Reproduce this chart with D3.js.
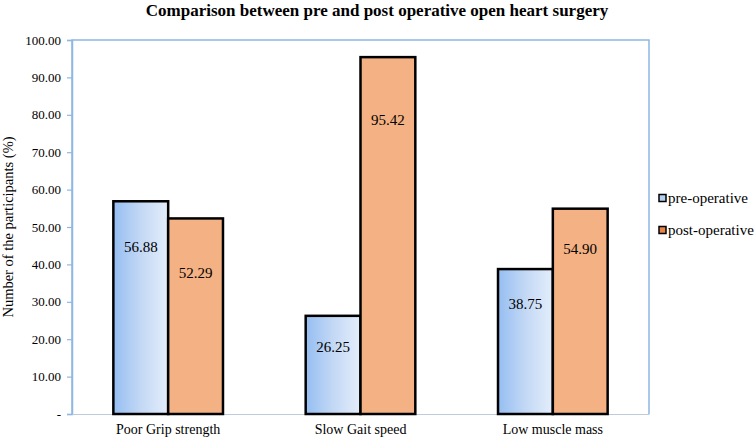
<!DOCTYPE html>
<html><head><meta charset="utf-8">
<script src="https://cdn.jsdelivr.net/npm/d3@7"></script>
<style>body{margin:0;background:#fff}svg{display:block}</style>
</head><body><svg id="c" width="754" height="440"></svg>
<script>
const categories = ["Poor Grip strength", "Slow Gait speed", "Low muscle mass"];
const seriesNames = ["pre-operative", "post-operative"];
const preValues = [56.88, 26.25, 38.75];
const postValues = [52.29, 95.42, 54.90];
// label anchor heights (in data units), as placed in the original
const preLabelAt = [44.7, 17.9, 29.4];
const postLabelAt = [37.7, 78.6, 44.1];
const yTicks = [0, 10, 20, 30, 40, 50, 60, 70, 80, 90, 100];

const FONT = "Liberation Serif, DejaVu Serif, serif";
const svg = d3.select("#c").attr("font-family", FONT);
const L = 72, R = 649, T = 40, B = 414;

const x0 = d3.scaleBand().domain(categories).range([L, R]).paddingInner(0.43).paddingOuter(0.215);
const x1 = d3.scaleBand().domain(seriesNames).range([0, x0.bandwidth()]);
const y = d3.scaleLinear().domain([0, 100]).range([B, T]);

const defs = svg.append("defs");
const g = defs.append("linearGradient").attr("id", "preGrad").attr("x1", "0").attr("x2", "1").attr("y1", "0").attr("y2", "0");
g.append("stop").attr("offset", "0").attr("stop-color", "#95BEF2");
g.append("stop").attr("offset", "0.5").attr("stop-color", "#C3D8F5");
g.append("stop").attr("offset", "1").attr("stop-color", "#E4EEFB");

svg.append("path").attr("d", `M${L},${B}V${T}H${R}V${B}`).attr("fill", "none").attr("stroke", "#8FB7E3").attr("stroke-width", 1.5);

const yAxis = d3.axisLeft(y).tickValues(yTicks).tickSize(5).tickPadding(6)
  .tickFormat(d => d === 0 ? "-" : d3.format(".2f")(d));
const ya = svg.append("g").attr("transform", `translate(${L},0)`).call(yAxis).attr("font-family", FONT).attr("font-size", 13);
ya.select(".domain").attr("stroke", "#8FB7E3").attr("stroke-width", 1.5);
ya.selectAll(".tick line").attr("stroke", "#8FB7E3").attr("stroke-width", 1.2);
ya.selectAll(".tick text").attr("fill", "#000");

const xAxis = d3.axisBottom(x0).tickSize(0).tickPadding(10);
const xa = svg.append("g").attr("transform", `translate(0,${B})`).call(xAxis).attr("font-family", FONT).attr("font-size", 14);
xa.select(".domain").attr("stroke", "#BFCBD8").attr("stroke-width", 1.2);
xa.selectAll(".tick text").attr("fill", "#000");

const data = categories.map((c, i) => ({c, vals: [
  {s: seriesNames[0], v: preValues[i], la: preLabelAt[i]},
  {s: seriesNames[1], v: postValues[i], la: postLabelAt[i]}]}));

const grp = svg.selectAll("g.grp").data(data).join("g").attr("class", "grp")
  .attr("transform", d => `translate(${x0(d.c)},0)`);
grp.selectAll("rect").data(d => d.vals).join("rect")
  .attr("x", d => x1(d.s)).attr("width", x1.bandwidth())
  .attr("y", d => y(d.v)).attr("height", d => y(0) - y(d.v))
  .attr("fill", d => d.s === seriesNames[0] ? "url(#preGrad)" : "#F4B183")
  .attr("stroke", "#000").attr("stroke-width", 2.5);
grp.selectAll("text.lbl").data(d => d.vals).join("text").attr("class", "lbl")
  .attr("x", d => x1(d.s) + x1.bandwidth() / 2).attr("y", d => y(d.la))
  .attr("dy", "0.35em").attr("text-anchor", "middle").attr("font-size", 15)
  .text(d => d3.format(".2f")(d.v));

svg.append("text").attr("x", 377).attr("y", 16).attr("text-anchor", "middle")
  .attr("font-size", 17).attr("font-weight", "bold")
  .text("Comparison between pre and post operative open heart surgery");

svg.append("text").attr("transform", `translate(13,${(T + B) / 2}) rotate(-90)`)
  .attr("text-anchor", "middle").attr("font-size", 14.5).text("Number of the participants (%)");

const lg = svg.append("g").selectAll("g").data(seriesNames).join("g")
  .attr("transform", (d, i) => `translate(659,${198 + i * 32})`);
lg.append("rect").attr("x", 0).attr("y", -3.5).attr("width", 7).attr("height", 7)
  .attr("fill", (d, i) => i === 0 ? "#B6D0F2" : "#E8844A").attr("stroke", "#000").attr("stroke-width", 1.5);
lg.append("text").attr("x", 9).attr("y", 0).attr("dy", "0.35em").attr("font-size", 15).text(d => d);
</script></body></html>
